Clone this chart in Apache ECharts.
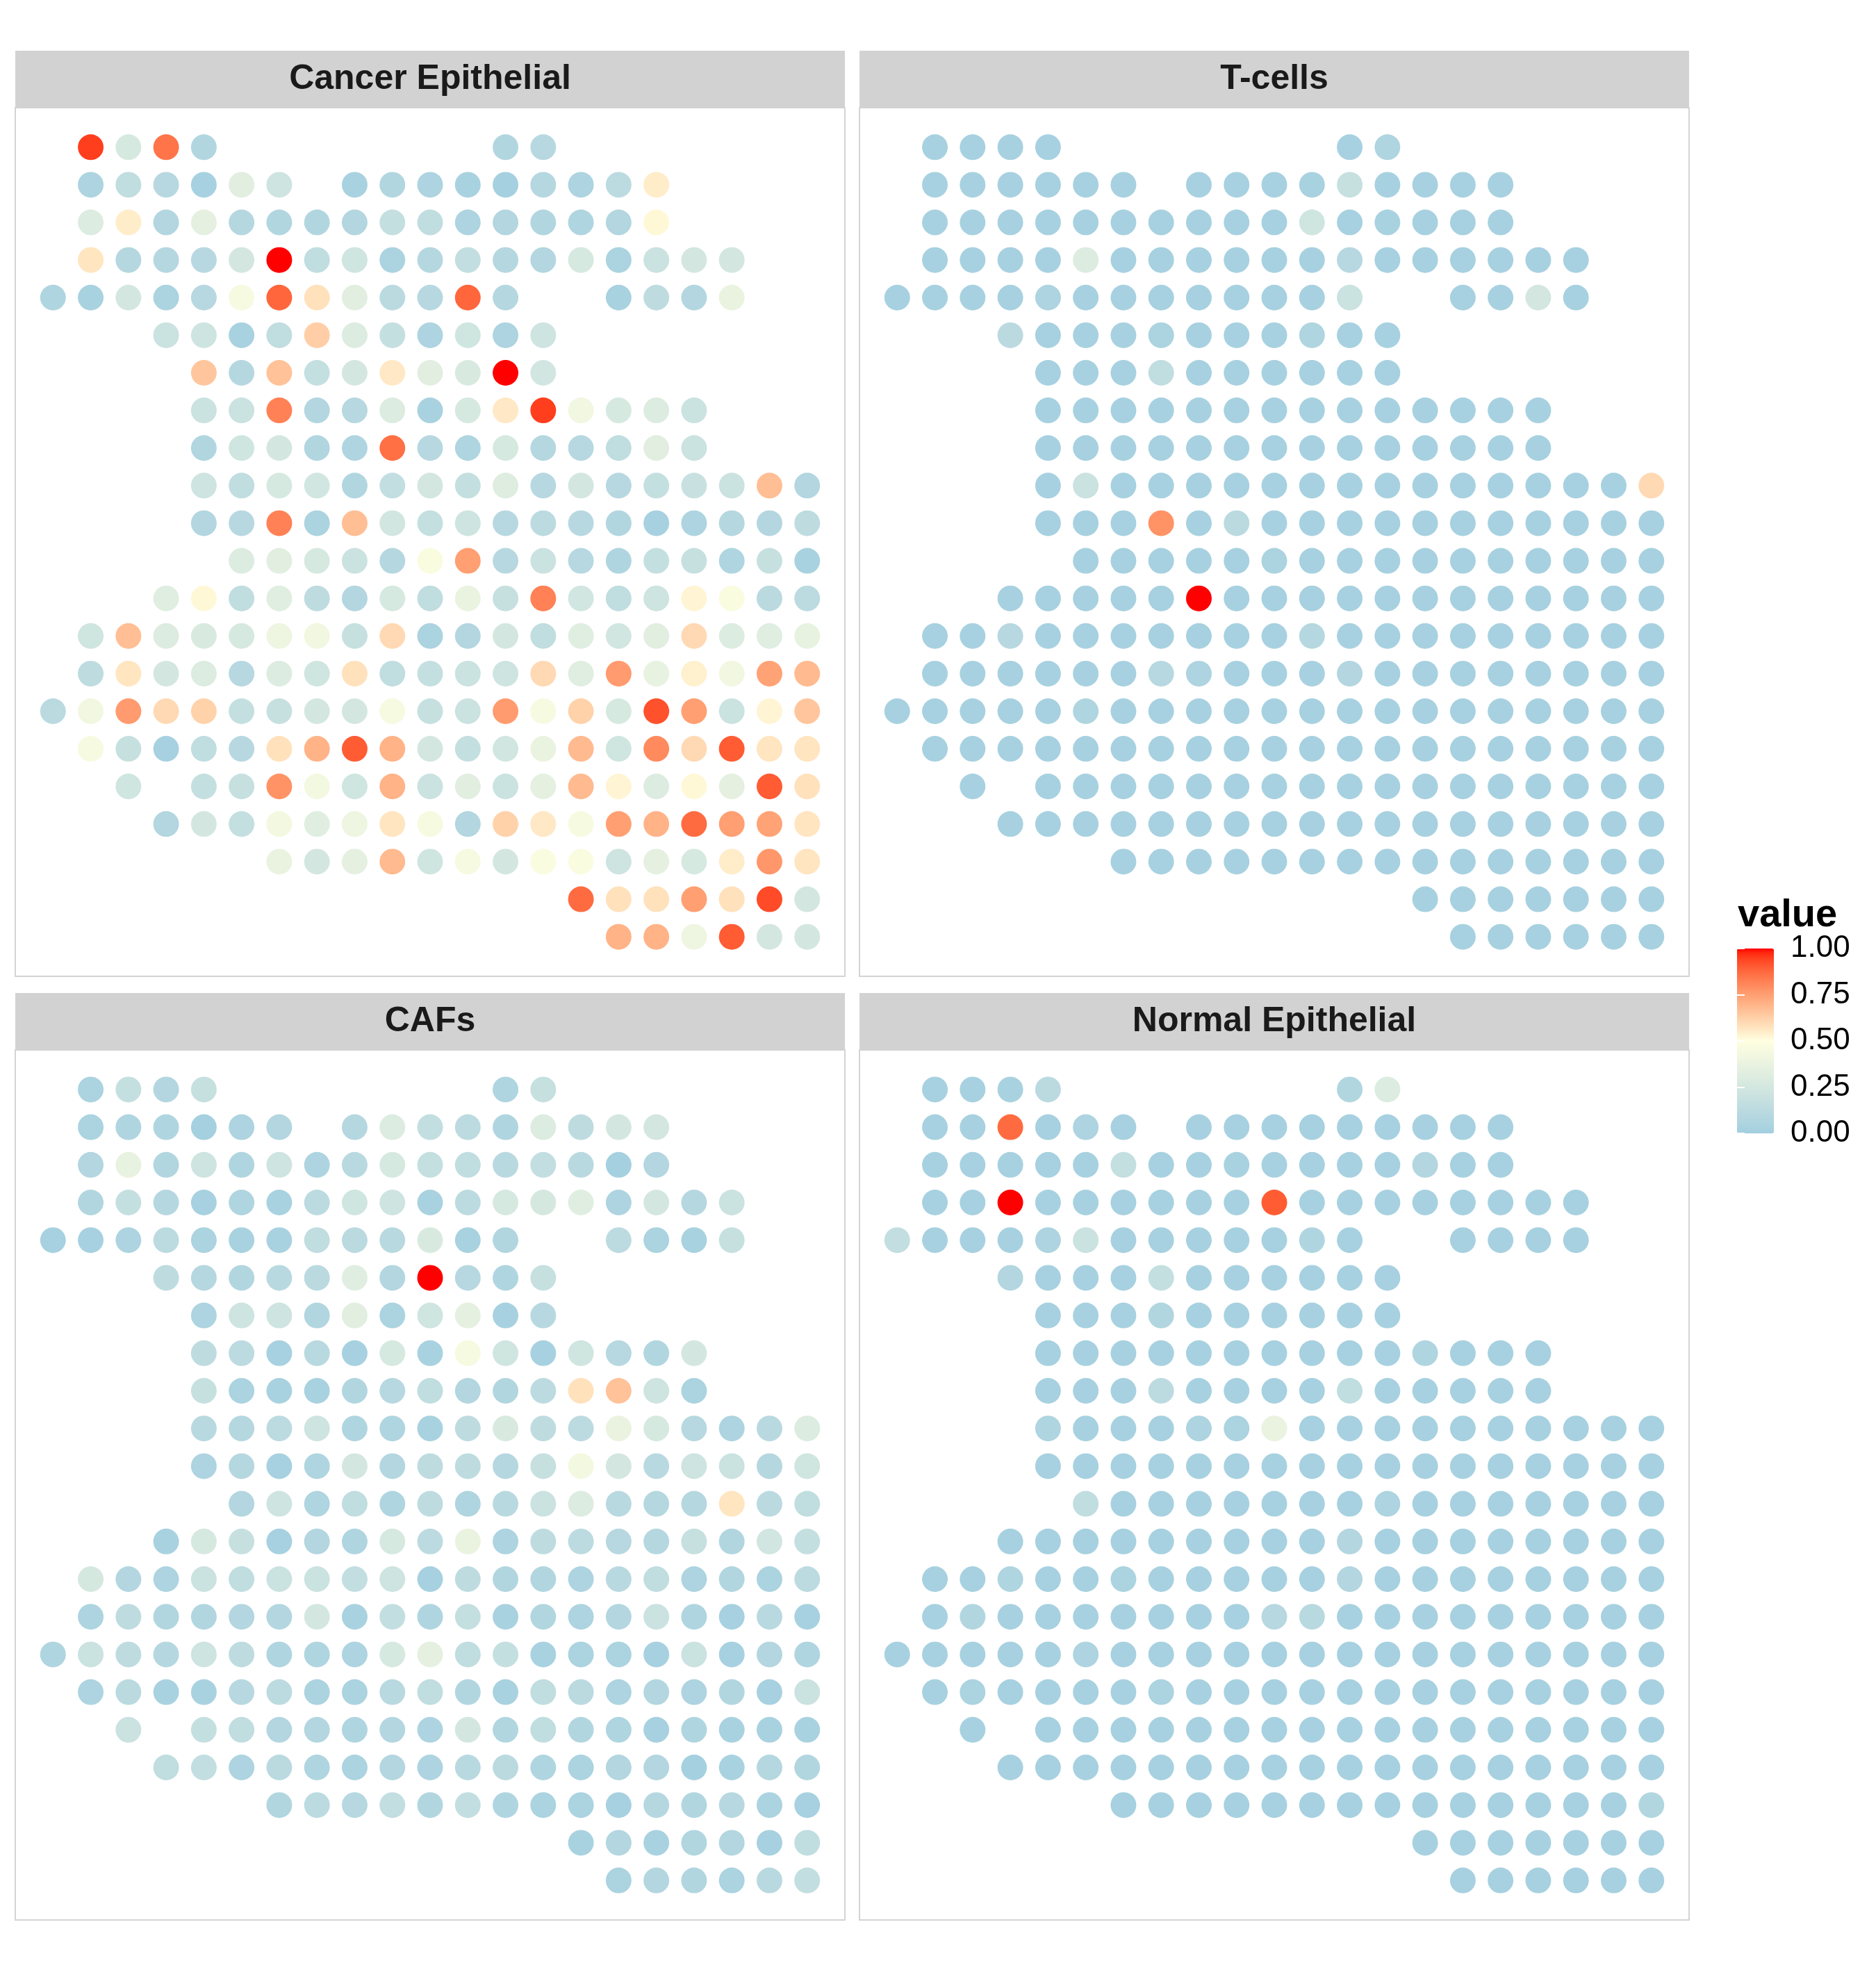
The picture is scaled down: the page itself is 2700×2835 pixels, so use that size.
<!DOCTYPE html>
<html><head><meta charset="utf-8">
<script src="https://cdn.jsdelivr.net/npm/echarts@6/dist/echarts.min.js"></script>
<style>html,body{margin:0;padding:0;background:#fff}#chart{width:2700px;height:2835px}</style>
</head><body><div id="chart"></div>
<script>
// ---------------- DATA ----------------
const panelNames = ['Cancer Epithelial', 'T-cells', 'CAFs', 'Normal Epithelial'];

// spot layout: for each array row, the column ranges [from, to] that hold a spot
const rowSpans = [
  [[1,4],[12,13]],
  [[1,6],[8,16]],
  [[1,16]],
  [[1,18]],
  [[0,12],[15,18]],
  [[3,13]],
  [[4,13]],
  [[4,17]],
  [[4,17]],
  [[4,20]],
  [[4,20]],
  [[5,20]],
  [[3,20]],
  [[1,20]],
  [[1,20]],
  [[0,20]],
  [[1,20]],
  [[2,2],[4,20]],
  [[3,20]],
  [[6,20]],
  [[14,20]],
  [[15,20]]
];

const cancerEpithelial = [
  [0.95,0.27,0.85,0.07,0.07,0.1],
  [0.05,0.15,0.1,0.02,0.33,0.22,0.03,0.07,0.05,0.03,0.01,0.09,0.05,0.13,0.55],
  [0.3,0.55,0.08,0.35,0.09,0.07,0.07,0.08,0.17,0.15,0.05,0.08,0.07,0.06,0.08,0.52],
  [0.57,0.09,0.09,0.1,0.25,1.0,0.15,0.23,0.04,0.09,0.16,0.09,0.08,0.27,0.04,0.2,0.25,0.25],
  [0.06,0.03,0.25,0.04,0.1,0.45,0.88,0.58,0.33,0.12,0.1,0.88,0.09,0.03,0.14,0.08,0.38],
  [0.2,0.22,0.03,0.15,0.63,0.3,0.17,0.05,0.23,0.05,0.22],
  [0.65,0.09,0.66,0.17,0.25,0.56,0.33,0.28,1.0,0.24],
  [0.2,0.2,0.82,0.08,0.1,0.3,0.03,0.27,0.56,0.95,0.42,0.27,0.3,0.2],
  [0.07,0.23,0.25,0.07,0.06,0.86,0.1,0.06,0.27,0.09,0.1,0.15,0.33,0.2],
  [0.22,0.15,0.27,0.24,0.07,0.16,0.25,0.17,0.31,0.1,0.25,0.1,0.17,0.19,0.2,0.67,0.08],
  [0.08,0.1,0.82,0.04,0.67,0.24,0.17,0.22,0.1,0.13,0.1,0.07,0.02,0.05,0.09,0.08,0.14],
  [0.3,0.33,0.27,0.2,0.09,0.47,0.75,0.1,0.2,0.1,0.06,0.17,0.18,0.06,0.18,0.03],
  [0.32,0.52,0.15,0.32,0.14,0.08,0.27,0.15,0.38,0.18,0.82,0.24,0.15,0.22,0.53,0.47,0.12,0.13],
  [0.23,0.67,0.3,0.28,0.27,0.4,0.42,0.18,0.6,0.04,0.08,0.25,0.15,0.32,0.24,0.33,0.6,0.3,0.32,0.37],
  [0.14,0.57,0.25,0.3,0.1,0.3,0.23,0.58,0.15,0.17,0.2,0.22,0.6,0.32,0.76,0.37,0.54,0.42,0.74,0.68],
  [0.12,0.42,0.76,0.6,0.62,0.17,0.18,0.25,0.25,0.45,0.18,0.2,0.76,0.45,0.62,0.27,0.92,0.75,0.2,0.53,0.65],
  [0.45,0.18,0.02,0.15,0.1,0.58,0.7,0.9,0.7,0.25,0.17,0.24,0.38,0.68,0.23,0.8,0.6,0.9,0.57,0.57],
  [0.23,0.17,0.18,0.78,0.43,0.23,0.7,0.2,0.33,0.2,0.35,0.68,0.53,0.3,0.52,0.35,0.9,0.58],
  [0.08,0.25,0.17,0.43,0.32,0.4,0.57,0.45,0.08,0.62,0.56,0.45,0.75,0.7,0.87,0.75,0.74,0.57],
  [0.38,0.25,0.35,0.68,0.23,0.45,0.25,0.47,0.47,0.22,0.35,0.27,0.55,0.77,0.57],
  [0.87,0.58,0.58,0.75,0.58,0.93,0.25],
  [0.7,0.7,0.4,0.9,0.25,0.25]
];

const tCells = [
  [0.02,0.02,0.02,0.02,0.02,0.06],
  [0.02,0.02,0.02,0.02,0.02, 0.02,0.02,0.02,0.02,0.03, 0.18,0.02,0.02,0.02,0.02],
  [0.02,0.02,0.02,0.02,0.02, 0.02,0.02,0.02,0.02,0.02, 0.23,0.02,0.03,0.02,0.02, 0.02],
  [0.02,0.02,0.02,0.02,0.3, 0.02,0.02,0.02,0.02,0.02, 0.02,0.1,0.02,0.02,0.02, 0.02,0.02,0.02],
  [0.02,0.02,0.02,0.02,0.05, 0.02,0.02,0.02,0.02,0.02, 0.02,0.02,0.2,0.02,0.02, 0.25,0.02],
  [0.12,0.02,0.02,0.02,0.04, 0.02,0.02,0.02,0.06,0.02, 0.02],
  [0.02,0.02,0.02,0.15,0.02, 0.02,0.02,0.02,0.02,0.02],
  [0.02,0.02,0.02,0.02,0.02, 0.02,0.02,0.02,0.02,0.02, 0.02,0.02,0.02,0.02],
  [0.02,0.02,0.02,0.02,0.02, 0.02,0.02,0.02,0.02,0.02, 0.02,0.02,0.02,0.02],
  [0.02,0.2,0.02,0.02,0.02, 0.02,0.02,0.02,0.02,0.02, 0.02,0.02,0.02,0.02,0.02, 0.02,0.6],
  [0.02,0.02,0.02,0.78,0.02, 0.12,0.02,0.02,0.02,0.02, 0.02,0.02,0.02,0.02,0.02, 0.02,0.02],
  [0.02,0.02,0.02,0.02,0.02, 0.04,0.02,0.02,0.02,0.02, 0.02,0.02,0.02,0.02,0.02, 0.02],
  [0.02,0.02,0.02,0.02,0.02, 1.0,0.02,0.02,0.02,0.02, 0.02,0.02,0.02,0.02,0.02, 0.02,0.02,0.02],
  [0.02,0.02,0.1,0.02,0.02, 0.02,0.02,0.02,0.02,0.02, 0.09,0.02,0.02,0.02,0.02, 0.02,0.02,0.02,0.02,0.02],
  [0.02,0.02,0.02,0.02,0.02, 0.02,0.1,0.05,0.02,0.02, 0.02,0.08,0.02,0.02,0.02, 0.02,0.02,0.02,0.02,0.02],
  [0.02,0.02,0.02,0.02,0.02, 0.06,0.02,0.02,0.02,0.02, 0.02,0.02,0.02,0.02,0.02, 0.02,0.02,0.02,0.02,0.02, 0.02],
  [0.02,0.02,0.02,0.02,0.02, 0.02,0.02,0.02,0.02,0.02, 0.02,0.02,0.02,0.02,0.02, 0.02,0.02,0.02,0.02,0.02],
  [0.02,0.02,0.02,0.02,0.02, 0.02,0.02,0.02,0.02,0.02, 0.02,0.02,0.02,0.02,0.02, 0.02,0.02,0.02],
  [0.02,0.02,0.02,0.02,0.02, 0.02,0.02,0.02,0.02,0.02, 0.02,0.02,0.02,0.02,0.02, 0.02,0.02,0.02],
  [0.02,0.02,0.02,0.02,0.02, 0.02,0.02,0.02,0.02,0.02, 0.02,0.02,0.02,0.02,0.02],
  [0.02,0.02,0.02,0.02,0.02, 0.02,0.02],
  [0.02,0.02,0.02,0.02,0.02, 0.02]
];

const cafs = [
  [0.04,0.17,0.08,0.18,0.06,0.18],
  [0.04,0.06,0.06,0.01,0.05,0.08,0.09,0.3,0.16,0.13,0.06,0.3,0.14,0.25,0.25],
  [0.08,0.37,0.07,0.22,0.06,0.22,0.05,0.11,0.27,0.17,0.15,0.11,0.16,0.11,0.01,0.08],
  [0.07,0.17,0.09,0.02,0.06,0.03,0.13,0.23,0.22,0.03,0.13,0.27,0.26,0.32,0.05,0.25,0.09,0.2],
  [0.02,0.02,0.05,0.13,0.04,0.03,0.03,0.15,0.12,0.11,0.28,0.03,0.07,0.13,0.04,0.03,0.18],
  [0.14,0.09,0.07,0.11,0.12,0.32,0.08,1.0,0.1,0.06,0.18],
  [0.05,0.22,0.22,0.07,0.33,0.04,0.23,0.35,0.02,0.1],
  [0.14,0.13,0.02,0.11,0.02,0.27,0.03,0.45,0.23,0.02,0.23,0.1,0.07,0.25],
  [0.18,0.04,0.03,0.03,0.07,0.1,0.15,0.08,0.07,0.13,0.58,0.66,0.22,0.04],
  [0.11,0.09,0.13,0.22,0.06,0.06,0.03,0.14,0.28,0.14,0.13,0.38,0.27,0.1,0.05,0.11,0.3],
  [0.05,0.09,0.02,0.06,0.25,0.08,0.14,0.14,0.09,0.18,0.43,0.25,0.11,0.22,0.2,0.09,0.23],
  [0.08,0.22,0.06,0.15,0.06,0.14,0.06,0.11,0.2,0.3,0.11,0.09,0.09,0.57,0.12,0.15],
  [0.03,0.27,0.18,0.02,0.08,0.06,0.27,0.13,0.38,0.05,0.14,0.13,0.1,0.09,0.18,0.07,0.24,0.17],
  [0.26,0.08,0.05,0.2,0.15,0.2,0.2,0.16,0.22,0.02,0.14,0.07,0.07,0.05,0.11,0.15,0.05,0.07,0.04,0.13],
  [0.05,0.14,0.07,0.07,0.08,0.08,0.25,0.03,0.16,0.06,0.17,0.03,0.07,0.05,0.08,0.2,0.06,0.02,0.11,0.02],
  [0.06,0.2,0.14,0.09,0.22,0.14,0.06,0.06,0.05,0.27,0.35,0.15,0.17,0.03,0.04,0.04,0.02,0.2,0.02,0.08,0.06],
  [0.05,0.12,0.03,0.03,0.1,0.13,0.04,0.04,0.11,0.15,0.07,0.03,0.15,0.12,0.05,0.08,0.05,0.07,0.02,0.2],
  [0.2,0.17,0.15,0.08,0.08,0.06,0.08,0.05,0.25,0.07,0.15,0.07,0.06,0.02,0.06,0.03,0.03,0.03],
  [0.15,0.16,0.05,0.12,0.06,0.04,0.08,0.05,0.11,0.12,0.06,0.04,0.08,0.08,0.01,0.03,0.09,0.07],
  [0.07,0.13,0.1,0.16,0.07,0.16,0.06,0.04,0.04,0.02,0.09,0.07,0.1,0.04,0.02],
  [0.03,0.08,0.03,0.07,0.08,0.02,0.15],
  [0.04,0.08,0.07,0.04,0.11,0.16]
];

const normalEpithelial = [
  [0.02,0.02,0.03,0.12,0.07,0.3],
  [0.02,0.02,0.87,0.02,0.05, 0.02,0.02,0.02,0.02,0.02, 0.02,0.02,0.02,0.02,0.02],
  [0.02,0.02,0.02,0.02,0.02, 0.17,0.02,0.02,0.03,0.02, 0.02,0.02,0.02,0.08,0.02, 0.02],
  [0.02,0.02,1.0,0.02,0.02, 0.02,0.02,0.02,0.02,0.9, 0.02,0.02,0.02,0.02,0.02, 0.02,0.02,0.02],
  [0.16,0.02,0.02,0.02,0.05, 0.2,0.02,0.02,0.02,0.02, 0.02,0.06,0.02,0.02,0.02, 0.02,0.02],
  [0.08,0.02,0.02,0.02,0.17, 0.02,0.02,0.02,0.02,0.02, 0.02],
  [0.02,0.02,0.02,0.07,0.02, 0.02,0.02,0.02,0.02,0.02],
  [0.02,0.02,0.02,0.02,0.02, 0.02,0.02,0.02,0.02,0.02, 0.06,0.02,0.02,0.02],
  [0.02,0.02,0.02,0.13,0.02, 0.02,0.02,0.02,0.15,0.02, 0.02,0.02,0.02,0.02],
  [0.06,0.02,0.02,0.02,0.05, 0.04,0.38,0.02,0.02,0.02, 0.02,0.02,0.02,0.02,0.02, 0.02,0.02],
  [0.02,0.02,0.02,0.02,0.02, 0.02,0.02,0.02,0.02,0.02, 0.02,0.02,0.02,0.02,0.02, 0.02,0.02],
  [0.15,0.02,0.02,0.02,0.02, 0.02,0.02,0.02,0.05,0.02, 0.02,0.02,0.02,0.02,0.02, 0.02],
  [0.02,0.02,0.02,0.02,0.02, 0.02,0.02,0.02,0.02,0.08, 0.02,0.02,0.02,0.02,0.02, 0.02,0.02,0.02],
  [0.02,0.02,0.06,0.02,0.02, 0.04,0.02,0.02,0.02,0.02, 0.02,0.08,0.02,0.02,0.02, 0.02,0.02,0.02,0.02,0.02],
  [0.02,0.07,0.02,0.02,0.02, 0.02,0.02,0.02,0.02,0.1, 0.11,0.02,0.02,0.02,0.02, 0.02,0.02,0.02,0.02,0.02],
  [0.02,0.02,0.02,0.02,0.02, 0.05,0.02,0.02,0.02,0.02, 0.02,0.02,0.02,0.02,0.02, 0.02,0.02,0.02,0.02,0.02, 0.02],
  [0.02,0.04,0.02,0.02,0.02, 0.02,0.04,0.02,0.02,0.02, 0.02,0.02,0.02,0.02,0.02, 0.02,0.02,0.02,0.02,0.02],
  [0.02,0.02,0.02,0.02,0.02, 0.02,0.02,0.02,0.02,0.02, 0.02,0.02,0.02,0.02,0.02, 0.02,0.02,0.02],
  [0.02,0.02,0.02,0.02,0.02, 0.02,0.02,0.02,0.02,0.02, 0.02,0.02,0.02,0.02,0.02, 0.02,0.02,0.02],
  [0.02,0.02,0.02,0.02,0.02, 0.02,0.02,0.02,0.02,0.02, 0.02,0.02,0.02,0.02,0.07],
  [0.02,0.02,0.02,0.02,0.02, 0.02,0.02],
  [0.02,0.02,0.02,0.02,0.02, 0.02]
];

const legendTitle = 'value';
const legendMin = 0, legendMax = 1, legendStep = 0.25;
const colorLow = '#a3cfe0', colorMid = '#ffffe0', colorHigh = '#ff0000';

// ---------------- BUILD ----------------
const panelValues = [cancerEpithelial, tCells, cafs, normalEpithelial];

function buildPoints(vals) {
  const pts = [];
  rowSpans.forEach((spans, r) => {
    const cols = [];
    spans.forEach(([a, b]) => { for (let c = a; c <= b; c++) cols.push(c); });
    const row = vals[r] || [];
    if (row.length !== cols.length) console.warn('row', r, 'has', row.length, 'values for', cols.length, 'spots');
    cols.forEach((c, k) => { if (row[k] != null) pts.push([c, r, row[k]]); });
  });
  return pts;
}

// Lab-space gradient (like ggplot's gradient2)
function hexRgb(h){h=h.replace('#','');return [0,2,4].map(i=>parseInt(h.substr(i,2),16));}
function toLin(c){c/=255;return c<=0.04045?c/12.92:Math.pow((c+0.055)/1.055,2.4);}
function fromLin(c){c=c<=0.0031308?12.92*c:1.055*Math.pow(c,1/2.4)-0.055;return Math.round(Math.max(0,Math.min(1,c))*255);}
function rgbLab(rgb){
  const [R,G,B]=rgb.map(toLin);
  const X=(0.4124*R+0.3576*G+0.1805*B)/0.95047, Y=0.2126*R+0.7152*G+0.0722*B, Z=(0.0193*R+0.1192*G+0.9505*B)/1.08883;
  const f=t=>t>0.008856?Math.cbrt(t):7.787*t+16/116;
  return [116*f(Y)-16,500*(f(X)-f(Y)),200*(f(Y)-f(Z))];
}
function labRgb([L,a,b]){
  const fy=(L+16)/116, fx=fy+a/500, fz=fy-b/200;
  const fi=t=>t*t*t>0.008856?t*t*t:(t-16/116)/7.787;
  const X=fi(fx)*0.95047, Y=fi(fy), Z=fi(fz)*1.08883;
  const R=3.2406*X-1.5372*Y-0.4986*Z, G=-0.9689*X+1.8758*Y+0.0415*Z, B=0.0557*X-0.2040*Y+1.0570*Z;
  return 'rgb('+fromLin(R)+','+fromLin(G)+','+fromLin(B)+')';
}
const labLow=rgbLab(hexRgb(colorLow)), labMid=rgbLab(hexRgb(colorMid)), labHigh=rgbLab(hexRgb(colorHigh));
const gradientStops=[];
for(let i=0;i<=40;i++){
  const t=i/40; let a,b,s;
  if(t<=0.5){a=labLow;b=labMid;s=t/0.5;} else {a=labMid;b=labHigh;s=(t-0.5)/0.5;}
  gradientStops.push(labRgb([0,1,2].map(k=>a[k]+(b[k]-a[k])*s)));
}

// ---------------- LAYOUT ----------------
const FONT = '"Liberation Sans", Arial, Helvetica, sans-serif';
const panelW = 1194;
const panels = [
  {left: 22,   top: 155,  width: panelW, height: 1250},
  {left: 1237, top: 155,  width: panelW, height: 1250},
  {left: 22,   top: 1511, width: panelW, height: 1252},
  {left: 1237, top: 1511, width: panelW, height: 1252}
];
const stripH = 82;
const bar = {left: 2500, top: 1365, width: 53, height: 266};

const grids = panels.map(p => ({left: p.left, top: p.top, width: p.width, height: p.height,
  show: true, borderColor: '#d4d4d4', borderWidth: 2, backgroundColor: '#fff'}));
grids.push({left: bar.left, top: bar.top, width: bar.width, height: bar.height, show: false});

const xAxes = panels.map((p, i) => ({gridIndex: i, type: 'value', min: -1, max: 21, show: false}));
xAxes.push({gridIndex: 4, type: 'value', min: 0, max: 1, show: false});
const yAxes = panels.map((p, i) => ({gridIndex: i, type: 'value', min: -1.05, max: 22.05, inverse: true, show: false}));
yAxes.push({gridIndex: 4, type: 'value', min: legendMin, max: legendMax, interval: legendStep, position: 'right', z: 10,
  axisLine: {show: false}, splitLine: {show: false},
  axisTick: {show: true, inside: true, length: 11, lineStyle: {color: '#ffffff', width: 2}},
  axisLabel: {show: true, margin: 24, fontSize: 44, color: '#000', fontFamily: FONT, formatter: v => v.toFixed(2)}});
yAxes.push({gridIndex: 4, type: 'value', min: legendMin, max: legendMax, interval: legendStep, position: 'left', z: 10,
  axisLine: {show: false}, splitLine: {show: false},
  axisTick: {show: true, inside: true, length: 11, lineStyle: {color: '#ffffff', width: 2}},
  axisLabel: {show: false}});

const series = panels.map((p, i) => ({
  type: 'scatter', xAxisIndex: i, yAxisIndex: i, symbol: 'circle', symbolSize: 37,
  silent: true, data: buildPoints(panelValues[i]), itemStyle: {opacity: 1}
}));

const graphic = [];
panels.forEach((p, i) => {
  graphic.push({type: 'rect', shape: {x: p.left, y: p.top - stripH, width: p.width, height: stripH},
    style: {fill: '#d2d2d2'}, silent: true});
  graphic.push({type: 'text', x: p.left + p.width / 2, y: p.top - stripH / 2,
    style: {text: panelNames[i], font: 'bold 50px ' + FONT, fill: '#1a1a1a', textAlign: 'center', textVerticalAlign: 'middle'}, silent: true});
});
graphic.push({type: 'text', x: 2501, y: 1318,
  style: {text: legendTitle, font: 'bold 56px ' + FONT, fill: '#000', textAlign: 'left', textVerticalAlign: 'middle'}, silent: true});

const chart = echarts.init(document.getElementById('chart'), null, {renderer: 'canvas'});
chart.setOption({
  animation: false,
  backgroundColor: '#ffffff',
  grid: grids, xAxis: xAxes, yAxis: yAxes, series: series, graphic: graphic,
  visualMap: [{
    type: 'continuous', min: legendMin, max: legendMax, dimension: 2, seriesIndex: [0, 1, 2, 3],
    orient: 'vertical', left: bar.left, top: bar.top, itemWidth: bar.width, itemHeight: bar.height,
    padding: 0, text: null, showLabel: false, calculable: false, realtime: false, hoverLink: false,
    inRange: {color: gradientStops}
  }]
});
</script></body></html>
